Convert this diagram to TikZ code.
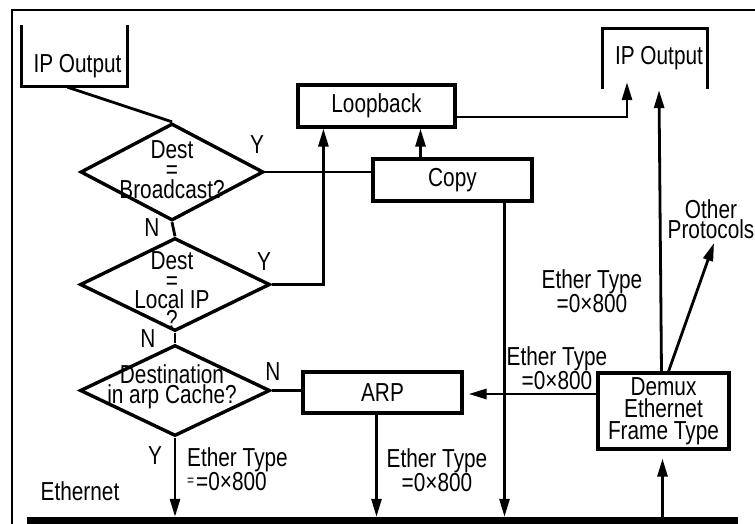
\documentclass[tikz,border=0pt]{standalone}
\usepackage{fontspec}
\setmainfont[FakeStretch=0.8]{Liberation Sans}
\usetikzlibrary{shapes.geometric,arrows.meta,calc}

\begin{document}
\begin{tikzpicture}[x=1pt,y=-1pt,
  every node/.style={font=\fontsize{26}{22}\selectfont},
  box/.style={draw,line width=3.2pt,inner sep=0pt},
  dia/.style={draw,diamond,line width=3.4pt,inner sep=0pt},
  txt/.style={align=center,inner sep=1pt},
  link/.style={line width=2.8pt},
  arr/.style={link,-{Triangle[length=18pt,width=10pt]}},
  bracket/.style={line width=3.2pt}]
\useasboundingbox (0,0) rectangle (755,523);

% outer frame (top and left edges)
\draw[line width=2.8pt] (755,10) -| (12,530);

% output brackets
\node[inner sep=0pt,minimum width=105pt,minimum height=61pt] (ipout1) at (74.5,55.5) {};
\node[txt] (ip1t) at (77.5,66) {IP Output};
\draw[bracket] (ipout1.north west) -- (ipout1.south west) -- (ipout1.south east) -- (ipout1.north east);
\node[inner sep=0pt,minimum width=104pt,minimum height=60pt] (ipout2) at (655,59) {};
\node[txt] (ip2t) at (659,58) {IP Output};
\draw[bracket] (ipout2.south west) -- (ipout2.north west) -- (ipout2.north east) -- (ipout2.south east);

% process boxes
\node[box,minimum width=157pt,minimum height=42pt] (loop) at (376.5,106) {Loopback};
\node[box,minimum width=159pt,minimum height=42pt] (copy) at (452.5,180) {Copy};
\node[box,minimum width=159pt,minimum height=41pt] (arp) at (382.5,392.5) {ARP};
\node[box,minimum width=131pt,minimum height=76pt,align=center] (demux) at (663.5,411) {Demux\\Ethernet\\Frame Type};

% decisions
\node[dia,minimum width=183pt,minimum height=97pt] (d1) at (172,172) {};
\node[txt,font=\fontsize{26}{20}\selectfont] (d1t) at (172,170) {Dest\\=\\Broadcast?};
\node[dia,minimum width=190pt,minimum height=93pt] (d2) at (175,284.5) {};
\node[txt,font=\fontsize{26}{19.5}\selectfont] (d2t) at (172,290) {Dest\\=\\Local IP\\?};
\node[dia,minimum width=190pt,minimum height=91pt] (d3) at (175,390.5) {};
\node[txt,font=\fontsize{26}{19}\selectfont] (d3t) at (172,387) {Destination\\in arp Cache?};

% ethernet bus
\node[fill,inner sep=0pt,minimum width=711pt,minimum height=8pt] (eth) at (382.5,521) {};
\node[txt] (ethl) at (80,491) {Ethernet};

% branch labels
\node[txt] (y1) at (257,145) {Y};
\node[txt] (n1) at (152,228) {N};
\node[txt] (y2) at (264,262) {Y};
\node[txt] (n2) at (148,339) {N};
\node[txt] (n3) at (273,372) {N};
\node[txt] (y3) at (155,456) {Y};

% ether type annotations
\node[txt,align=left,anchor=west,font=\fontsize{26}{20}\selectfont] (et1) at (186,469)
  {Ether Type\\{\fontsize{15}{15}\selectfont\raisebox{5pt}{=}}\hspace{2pt}=0×800};
\node[txt,font=\fontsize{26}{20}\selectfont] (et2) at (437,470) {Ether Type\\=0×800};
\node[txt,font=\fontsize{26}{21}\selectfont] (et3) at (557,368) {Ether Type\\=0×800};
\node[txt,font=\fontsize{26}{22}\selectfont] (et4) at (592,291) {Ether Type\\=0×800};
\node[txt,font=\fontsize{26}{16}\selectfont] (other) at (711,219) {Other\\Protocols};

% flow
\draw[link] ($(ipout1.south)+(-7,1)$) -- (d1.north);
\draw[link] (d1.east) -- (d1.east -| copy.west);
\draw[link] (d1.south) -- (d2.north);
\draw[link] (d2.south) -- (d3.north);
\draw[arr] (d2.east) -| ($(loop.south west)+(27,0)$);
\draw[arr] ($(copy.north)+(-32,0)$) -- ($(loop.south)+(44,0)$);
\draw[arr] ($(loop.east)+(0,11)$) -| ($(ipout2.south)+(-28,-7)$);
\draw[link] (d3.east) -- (d3.east -| arp.west);

\coordinate (cdown) at ($(copy.south)+(52,0)$);
\draw[arr] (cdown) -- (cdown |- eth.north);
\draw[arr] (d3.south) -- (d3.south |- eth.north);
\coordinate (adown) at ($(arp.south)+(-6,0)$);
\draw[arr] (adown) -- (adown |- eth.north);

\coordinate (dup) at ($(demux.south)+(-1,8)$);
\draw[arr] (dup |- eth.north) -- (dup);
\coordinate (atip) at ($(arp.east)+(5,1.5)$);
\draw[arr] (atip -| demux.west) -- (atip);
\draw[arr] ($(demux.north)+(-2,0)$) -- ($(ipout2.south)+(4,1)$);
\draw[arr] ($(demux.north)+(5,0)$) -- ($(other.center)+(3,24)$);
\end{tikzpicture}
\end{document}
